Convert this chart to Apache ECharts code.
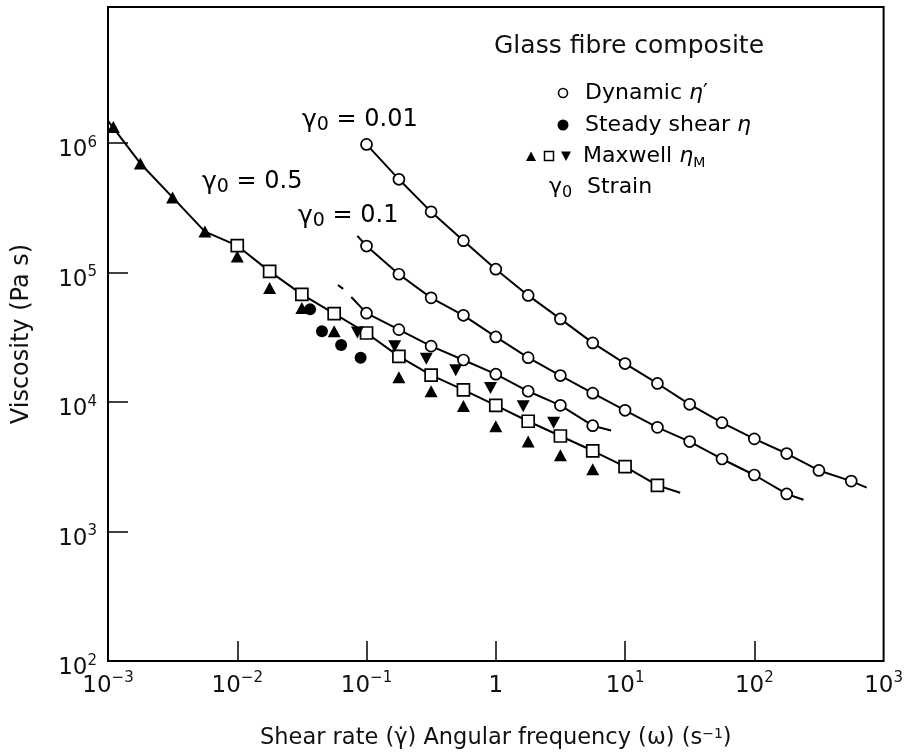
<!DOCTYPE html>
<html>
<head>
<meta charset="utf-8">
<title>Glass fibre composite – viscosity</title>
<script src="https://cdn.jsdelivr.net/npm/echarts@6/dist/echarts.min.js"></script>
<style>
  html, body { margin: 0; padding: 0; background: #fff; }
  #chart { width: 906px; height: 755px; }
</style>
</head>
<body>
<div id="chart"></div>
<script>
// ---- data -------------------------------------------------------------
// Angular frequencies of the oscillatory sweeps (s^-1)
const omegaFull = [0.1, 0.178, 0.316, 0.562, 1, 1.78, 3.16, 5.62, 10, 17.8, 31.6, 56.2, 100, 178, 316, 562];
// Dynamic viscosity eta' (Pa s), strain amplitude 0.01
const etaDyn001 = [9.75e5, 5.24e5, 2.94e5, 1.76e5, 1.06e5, 6.65e4, 4.38e4, 2.86e4, 1.98e4, 1.39e4, 9.6e3, 6.92e3, 5.19e3, 4.0e3, 2.96e3, 2.45e3];
// strain amplitude 0.1
const omegaDyn01 = [0.1, 0.178, 0.316, 0.562, 1, 1.78, 3.16, 5.62, 10, 17.8, 31.6, 56.2, 100, 178];
const etaDyn01 = [1.6e5, 9.69e4, 6.37e4, 4.67e4, 3.18e4, 2.2e4, 1.6e4, 1.17e4, 8.63e3, 6.37e3, 4.95e3, 3.63e3, 2.73e3, 1.95e3];
// strain amplitude 0.5
const omegaDyn05 = [0.1, 0.178, 0.316, 0.562, 1, 1.78, 3.16, 5.62];
const etaDyn05 = [4.85e4, 3.62e4, 2.7e4, 2.11e4, 1.64e4, 1.21e4, 9.42e3, 6.56e3];

// Steady shear viscosity eta vs shear rate
const shearRateSteady = [0.0366, 0.0452, 0.0636, 0.09];
const etaSteady = [5.19e4, 3.52e4, 2.76e4, 2.2e4];

// Maxwell viscosity eta_M (open squares)
const rateMaxSquare = [0.01, 0.0178, 0.0316, 0.0562, 0.1, 0.178, 0.316, 0.562, 1, 1.78, 3.16, 5.62, 10, 17.8];
const etaMaxSquare = [1.61e5, 1.02e5, 6.78e4, 4.82e4, 3.41e4, 2.25e4, 1.61e4, 1.24e4, 9.4e3, 7.1e3, 5.46e3, 4.2e3, 3.17e3, 2.27e3];
// Maxwell viscosity (filled up-triangles)
const rateMaxUp = [0.0011, 0.00178, 0.00316, 0.00562, 0.01, 0.0178, 0.0316, 0.0562, 0.178, 0.316, 0.562, 1, 1.78, 3.16, 5.62];
const etaMaxUp = [1.33e6, 6.95e5, 3.8e5, 2.07e5, 1.33e5, 7.59e4, 5.33e4, 3.52e4, 1.55e4, 1.21e4, 9.33e3, 6.49e3, 4.96e3, 3.88e3, 3.02e3];
// Maxwell viscosity (filled down-triangles)
const rateMaxDown = [0.085, 0.165, 0.29, 0.49, 0.91, 1.63, 2.8];
const etaMaxDown = [3.44e4, 2.7e4, 2.16e4, 1.76e4, 1.28e4, 9.27e3, 6.92e3];

// Ends of the fitted curves beyond the measured points [rate, eta]
const fit001End = [740, 2.18e3];
const fit01Start = [0.085, 1.92e5];
const fit01End = [240, 1.76e3];
const fit05Start = [0.0762, 6.47e4];
const fit05End = [7.8, 6.03e3];
const fit05Lead = [[0.06, 8.0e4], [0.066, 7.47e4]];
const fitMaxStart = [0.001, 1.48e6];
const fitMaxEnd = [26.7, 1.99e3];

// Tick marks and tick labels (decade values)
const xTickMarks = [1e-2, 1e-1, 1, 1e1, 1e2];
const xTickLabels = [1e-3, 1e-2, 1e-1, 1, 1e1, 1e2, 1e3];
const yTickMarks = [1e3, 1e4, 1e5, 1e6];
const yTickLabels = [1e2, 1e3, 1e4, 1e5, 1e6];

// ---- helpers ------------------------------------------------------------
const pairs = (xs, ys) => xs.map((x, i) => [x, ys[i]]);
const FONT = '"DejaVu Sans", "Liberation Sans", sans-serif';
const INK = '#111';

function powerLabel(value) {
  const e = Math.round(Math.log10(value));
  if (e === 0) return '{b|1}';
  const sup = e < 0 ? '\u2212' + (-e) : String(e);
  return '{b|10}{s|' + sup + '}';
}
const tickRich = {
  b: { fontFamily: FONT, fontSize: 23, lineHeight: 30, color: INK },
  s: { fontFamily: FONT, fontSize: 15, lineHeight: 15, verticalAlign: 'top', color: INK }
};

const gammaRich = {
  g: { fontFamily: FONT, fontSize: 25, lineHeight: 30, color: INK },
  o: { fontFamily: FONT, fontSize: 19, lineHeight: 21, verticalAlign: 'bottom', color: INK },
  t: { fontFamily: FONT, fontSize: 24, lineHeight: 30, color: INK }
};
const legendRich = {
  t: { fontFamily: FONT, fontSize: 22, lineHeight: 28, color: INK },
  i: { fontFamily: FONT, fontSize: 22, lineHeight: 28, fontStyle: 'italic', color: INK },
  m: { fontFamily: FONT, fontSize: 14, lineHeight: 18, verticalAlign: 'bottom', color: INK },
  g: { fontFamily: FONT, fontSize: 22, lineHeight: 28, color: INK },
  o: { fontFamily: FONT, fontSize: 16, lineHeight: 19, verticalAlign: 'bottom', color: INK }
};

const lineStyle = { color: '#000', width: 2 };
function fitLine(data) {
  return {
    type: 'line', data: data, symbol: 'none', smooth: false,
    lineStyle: lineStyle, z: 2, silent: true
  };
}
function markers(data, symbol, size, fill, extra) {
  return Object.assign({
    type: 'scatter', data: data, symbol: symbol, symbolSize: size, z: 3, silent: true,
    itemStyle: { color: fill, borderColor: '#000', borderWidth: fill === '#fff' ? 1.7 : 0, opacity: 1 }
  }, extra || {});
}

const curve001 = pairs(omegaFull, etaDyn001).concat([fit001End]);
const curve01 = [fit01Start].concat(pairs(omegaDyn01, etaDyn01), [fit01End]);
const curve05 = [fit05Start].concat(pairs(omegaDyn05, etaDyn05), [fit05End]);
const curveMax = [fitMaxStart].concat(pairs(rateMaxUp.slice(1, 4), etaMaxUp.slice(1, 4)),
                                      pairs(rateMaxSquare, etaMaxSquare), [fitMaxEnd]);

// ---- chart --------------------------------------------------------------
const chart = echarts.init(document.getElementById('chart'), null, { renderer: 'canvas' });

const option = {
  animation: false,
  backgroundColor: '#fff',
  grid: {
    left: 108, right: 22, top: 7, bottom: 94,
    show: true, borderColor: '#000', borderWidth: 2, backgroundColor: 'transparent'
  },
  xAxis: {
    type: 'log', logBase: 10, min: 1e-3, max: 1e3,
    axisLine: { show: false },
    axisTick: { show: true, inside: true, length: 20, customValues: xTickMarks, lineStyle: { color: '#000', width: 1.5 } },
    splitLine: { show: false },
    minorTick: { show: false },
    axisLabel: { formatter: powerLabel, margin: 10, rich: tickRich, customValues: xTickLabels },
    name: 'Shear rate (\u03B3\u0307) Angular frequency (\u03C9) (s{sup|\u22121})',
    nameLocation: 'middle', nameGap: 66,
    nameTextStyle: {
      fontFamily: FONT, fontSize: 22.5, color: INK,
      rich: { sup: { fontFamily: FONT, fontSize: 14, lineHeight: 14, verticalAlign: 'top', color: INK } }
    }
  },
  yAxis: {
    type: 'log', logBase: 10, min: 1e2, max: Math.pow(10, 7.05),
    axisLine: { show: false },
    axisTick: { show: true, inside: true, length: 20, customValues: yTickMarks, lineStyle: { color: '#000', width: 1.5 } },
    splitLine: { show: false },
    minorTick: { show: false },
    axisLabel: { formatter: powerLabel, margin: 11, padding: [15, 0, 0, 0], rich: tickRich, customValues: yTickLabels },
    name: 'Viscosity (Pa s)',
    nameLocation: 'middle', nameGap: 74,
    nameTextStyle: { fontFamily: FONT, fontSize: 24, color: INK }
  },
  series: [
    fitLine(curve001),
    fitLine(curve01),
    fitLine(curve05),
    fitLine(fit05Lead),
    fitLine(curveMax),
    markers(pairs(omegaFull, etaDyn001), 'circle', 11, '#fff'),
    markers(pairs(omegaDyn01, etaDyn01), 'circle', 11, '#fff'),
    markers(pairs(omegaDyn05, etaDyn05), 'circle', 11, '#fff'),
    markers(pairs(rateMaxSquare, etaMaxSquare), 'rect', 12, '#fff'),
    markers(pairs(rateMaxUp, etaMaxUp), 'triangle', [13, 12], '#000'),
    markers(pairs(rateMaxDown, etaMaxDown), 'triangle', [13, 12], '#000', { symbolRotate: 180 }),
    markers(pairs(shearRateSteady, etaSteady), 'circle', 12, '#000')
  ],
  graphic: [
    // strain labels beside the curves
    { type: 'text', x: 302, y: 120, style: { text: '{g|\u03B3}{o|0}{t| = 0.01}', rich: gammaRich, verticalAlign: 'middle' } },
    { type: 'text', x: 202, y: 182, style: { text: '{g|\u03B3}{o|0}{t| = 0.5}', rich: gammaRich, verticalAlign: 'middle' } },
    { type: 'text', x: 298, y: 216, style: { text: '{g|\u03B3}{o|0}{t| = 0.1}', rich: gammaRich, verticalAlign: 'middle' } },

    // key
    { type: 'text', x: 494, y: 46, style: { text: 'Glass fibre composite', fontFamily: FONT, fontSize: 25, fill: INK, verticalAlign: 'middle' } },

    { type: 'circle', shape: { cx: 563, cy: 93, r: 4.5 }, style: { fill: '#fff', stroke: '#000', lineWidth: 1.6 } },
    { type: 'text', x: 585, y: 93, style: { text: '{t|Dynamic }{i|\u03B7}{t|\u2032}', rich: legendRich, verticalAlign: 'middle' } },

    { type: 'circle', shape: { cx: 563, cy: 125, r: 5.5 }, style: { fill: '#000' } },
    { type: 'text', x: 585, y: 125, style: { text: '{t|Steady shear }{i|\u03B7}', rich: legendRich, verticalAlign: 'middle' } },

    { type: 'polygon', shape: { points: [[526, 161], [536, 161], [531, 151.5]] }, style: { fill: '#000' } },
    { type: 'rect', shape: { x: 544.5, y: 151.5, width: 9, height: 9 }, style: { fill: '#fff', stroke: '#000', lineWidth: 1.5 } },
    { type: 'polygon', shape: { points: [[561, 151.5], [571, 151.5], [566, 161]] }, style: { fill: '#000' } },
    { type: 'text', x: 583, y: 156, style: { text: '{t|Maxwell }{i|\u03B7}{m|M}', rich: legendRich, verticalAlign: 'middle' } },

    { type: 'text', x: 549, y: 187, style: { text: '{g|\u03B3}{o|0}', rich: legendRich, verticalAlign: 'middle' } },
    { type: 'text', x: 587, y: 187, style: { text: '{t|Strain}', rich: legendRich, verticalAlign: 'middle' } }
  ]
};

chart.setOption(option);
</script>
</body>
</html>
